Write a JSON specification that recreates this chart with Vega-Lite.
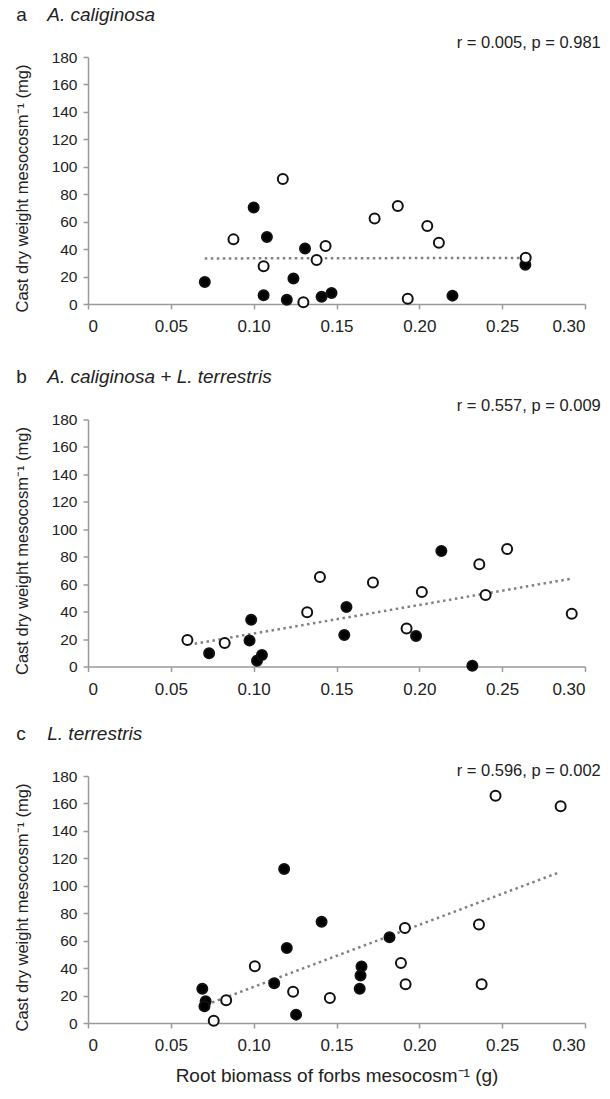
{
  "$schema": "https://vega.github.io/schema/vega-lite/v6.json",
  "padding": {"left": 14, "top": 5, "right": 0, "bottom": 0},
  "background": "white",
  "config": {
    "view": {"stroke": null},
    "font": "Liberation Sans",
    "axis": {"grid": false, "domainColor": "#9a9a9a", "tickColor": "#9a9a9a", "domainWidth": 1.5, "tickWidth": 1.5, "tickSize": 5, "labelColor": "#222", "titleColor": "#222", "labelFont": "Liberation Sans", "titleFont": "Liberation Sans", "titleFontWeight": "normal"},
    "axisX": {"labelPadding": 9.5, "labelFontSize": 17},
    "axisY": {"labelPadding": 6, "titlePadding": 21, "labelFontSize": 15.5, "titleFontSize": 16.5, "titleY": 131}
  },
  "datasets": {
    "points": [
      {"panel": "a", "type": "filled", "x": 0.0705, "y": 16.1},
      {"panel": "a", "type": "filled", "x": 0.100, "y": 70.3},
      {"panel": "a", "type": "filled", "x": 0.108, "y": 48.8},
      {"panel": "a", "type": "filled", "x": 0.106, "y": 6.3},
      {"panel": "a", "type": "filled", "x": 0.131, "y": 40.5},
      {"panel": "a", "type": "filled", "x": 0.124, "y": 18.5},
      {"panel": "a", "type": "filled", "x": 0.120, "y": 3.1},
      {"panel": "a", "type": "filled", "x": 0.141, "y": 5.3},
      {"panel": "a", "type": "filled", "x": 0.147, "y": 8.0},
      {"panel": "a", "type": "filled", "x": 0.220, "y": 6.1},
      {"panel": "a", "type": "filled", "x": 0.264, "y": 28.6},
      {"panel": "a", "type": "open", "x": 0.1176, "y": 91.1},
      {"panel": "a", "type": "open", "x": 0.0878, "y": 47.1},
      {"panel": "a", "type": "open", "x": 0.106, "y": 27.5},
      {"panel": "a", "type": "open", "x": 0.1434, "y": 42.2},
      {"panel": "a", "type": "open", "x": 0.138, "y": 32.0},
      {"panel": "a", "type": "open", "x": 0.130, "y": 1.2},
      {"panel": "a", "type": "open", "x": 0.173, "y": 62.3},
      {"panel": "a", "type": "open", "x": 0.187, "y": 71.5},
      {"panel": "a", "type": "open", "x": 0.2048, "y": 56.9},
      {"panel": "a", "type": "open", "x": 0.2118, "y": 44.7},
      {"panel": "a", "type": "open", "x": 0.193, "y": 3.9},
      {"panel": "a", "type": "open", "x": 0.2642, "y": 33.7},
      {"panel": "b", "type": "filled", "x": 0.0731, "y": 9.7},
      {"panel": "b", "type": "filled", "x": 0.0985, "y": 34.0},
      {"panel": "b", "type": "filled", "x": 0.0975, "y": 19.0},
      {"panel": "b", "type": "filled", "x": 0.102, "y": 4.2},
      {"panel": "b", "type": "filled", "x": 0.105, "y": 8.3},
      {"panel": "b", "type": "filled", "x": 0.156, "y": 43.4},
      {"panel": "b", "type": "filled", "x": 0.1547, "y": 23.0},
      {"panel": "b", "type": "filled", "x": 0.198, "y": 22.2},
      {"panel": "b", "type": "filled", "x": 0.2133, "y": 84.2},
      {"panel": "b", "type": "filled", "x": 0.232, "y": 0.5},
      {"panel": "b", "type": "open", "x": 0.060, "y": 19.3},
      {"panel": "b", "type": "open", "x": 0.0825, "y": 17.1},
      {"panel": "b", "type": "open", "x": 0.1323, "y": 39.5},
      {"panel": "b", "type": "open", "x": 0.140, "y": 65.3},
      {"panel": "b", "type": "open", "x": 0.172, "y": 61.2},
      {"panel": "b", "type": "open", "x": 0.1923, "y": 27.7},
      {"panel": "b", "type": "open", "x": 0.2015, "y": 54.3},
      {"panel": "b", "type": "open", "x": 0.2362, "y": 74.5},
      {"panel": "b", "type": "open", "x": 0.240, "y": 52.1},
      {"panel": "b", "type": "open", "x": 0.253, "y": 85.6},
      {"panel": "b", "type": "open", "x": 0.292, "y": 38.5},
      {"panel": "c", "type": "filled", "x": 0.069, "y": 24.9},
      {"panel": "c", "type": "filled", "x": 0.071, "y": 15.8},
      {"panel": "c", "type": "filled", "x": 0.0703, "y": 12.2},
      {"panel": "c", "type": "filled", "x": 0.1184, "y": 112.3},
      {"panel": "c", "type": "filled", "x": 0.120, "y": 54.7},
      {"panel": "c", "type": "filled", "x": 0.1124, "y": 29.0},
      {"panel": "c", "type": "filled", "x": 0.1256, "y": 6.1},
      {"panel": "c", "type": "filled", "x": 0.141, "y": 73.7},
      {"panel": "c", "type": "filled", "x": 0.1651, "y": 41.2},
      {"panel": "c", "type": "filled", "x": 0.1645, "y": 34.7},
      {"panel": "c", "type": "filled", "x": 0.164, "y": 24.9},
      {"panel": "c", "type": "filled", "x": 0.182, "y": 62.5},
      {"panel": "c", "type": "open", "x": 0.0759, "y": 1.7},
      {"panel": "c", "type": "open", "x": 0.0834, "y": 16.6},
      {"panel": "c", "type": "open", "x": 0.1007, "y": 41.3},
      {"panel": "c", "type": "open", "x": 0.1238, "y": 22.7},
      {"panel": "c", "type": "open", "x": 0.146, "y": 18.3},
      {"panel": "c", "type": "open", "x": 0.1889, "y": 43.7},
      {"panel": "c", "type": "open", "x": 0.1913, "y": 69.3},
      {"panel": "c", "type": "open", "x": 0.1917, "y": 28.3},
      {"panel": "c", "type": "open", "x": 0.236, "y": 71.8},
      {"panel": "c", "type": "open", "x": 0.2376, "y": 28.3},
      {"panel": "c", "type": "open", "x": 0.246, "y": 165.6},
      {"panel": "c", "type": "open", "x": 0.2853, "y": 158.0}
    ],
    "trend": [
      {"panel": "a", "x": 0.0705, "y": 33.2},
      {"panel": "a", "x": 0.264, "y": 33.6},
      {"panel": "b", "x": 0.0644, "y": 16.6},
      {"panel": "b", "x": 0.292, "y": 64.0},
      {"panel": "c", "x": 0.0715, "y": 13.4},
      {"panel": "c", "x": 0.285, "y": 110.0}
    ],
    "letters": [
      {"panel": "a", "x": -0.0433, "y": 210.8, "text": "a"},
      {"panel": "b", "x": -0.0433, "y": 210.8, "text": "b"},
      {"panel": "c", "x": -0.0433, "y": 210.8, "text": "c"}
    ],
    "species": [
      {"panel": "a", "x": -0.0246, "y": 210.8, "text": "A. caliginosa"},
      {"panel": "b", "x": -0.0246, "y": 210.8, "text": "A. caliginosa + L. terrestris"},
      {"panel": "c", "x": -0.0246, "y": 210.8, "text": "L. terrestris"}
    ],
    "stats": [
      {"panel": "a", "x": 0.3095, "y": 190, "text": "r = 0.005, p = 0.981"},
      {"panel": "b", "x": 0.3095, "y": 189.5, "text": "r = 0.557, p = 0.009"},
      {"panel": "c", "x": 0.3095, "y": 184, "text": "r = 0.596, p = 0.002"}
    ]
  },
  "spacing": 32.5,
  "vconcat": [
    {
      "width": 497, "height": 247,
      "encoding": {
        "x": {"field": "x", "type": "quantitative", "scale": {"domain": [0, 0.3], "nice": false, "zero": false}, "axis": {"title": null, "values": [0, 0.05, 0.1, 0.15, 0.2, 0.25, 0.3], "labelExpr": "datum.value == 0 ? '0' : format(datum.value, '.2f')"}},
        "y": {"field": "y", "type": "quantitative", "scale": {"domain": [0, 180], "nice": false}, "axis": {"title": "Cast dry weight mesocosm⁻¹ (mg)", "values": [0, 20, 40, 60, 80, 100, 120, 140, 160, 180]}}
      },
      "layer": [
        {"data": {"name": "trend"}, "transform": [{"filter": "datum.panel == 'a'"}], "mark": {"type": "line", "color": "#808080", "strokeWidth": 2.5, "strokeDash": [2.5, 3.5]}},
        {"data": {"name": "points"}, "transform": [{"filter": "datum.panel == 'a'"}], "mark": {"type": "circle", "size": 100, "stroke": "#111", "strokeWidth": 2, "opacity": 1}, "encoding": {"fill": {"field": "type", "type": "nominal", "scale": {"domain": ["filled", "open"], "range": ["#000000", "#ffffff"]}, "legend": null}}},
        {"data": {"name": "letters"}, "transform": [{"filter": "datum.panel == 'a'"}], "mark": {"type": "text", "align": "left", "baseline": "middle", "fontSize": 19, "color": "#222"}, "encoding": {"text": {"field": "text"}}},
        {"data": {"name": "species"}, "transform": [{"filter": "datum.panel == 'a'"}], "mark": {"type": "text", "align": "left", "baseline": "middle", "fontSize": 19, "fontStyle": "italic", "color": "#222"}, "encoding": {"text": {"field": "text"}}},
        {"data": {"name": "stats"}, "transform": [{"filter": "datum.panel == 'a'"}], "mark": {"type": "text", "align": "right", "baseline": "middle", "fontSize": 16.5, "color": "#222"}, "encoding": {"text": {"field": "text"}}}
      ]
    },
    {
      "spacing": 26.5,
      "vconcat": [
        {
          "width": 497, "height": 247,
          "encoding": {
            "x": {"field": "x", "type": "quantitative", "scale": {"domain": [0, 0.3], "nice": false, "zero": false}, "axis": {"title": null, "values": [0, 0.05, 0.1, 0.15, 0.2, 0.25, 0.3], "labelExpr": "datum.value == 0 ? '0' : format(datum.value, '.2f')"}},
            "y": {"field": "y", "type": "quantitative", "scale": {"domain": [0, 180], "nice": false}, "axis": {"title": "Cast dry weight mesocosm⁻¹ (mg)", "values": [0, 20, 40, 60, 80, 100, 120, 140, 160, 180]}}
          },
          "layer": [
            {"data": {"name": "trend"}, "transform": [{"filter": "datum.panel == 'b'"}], "mark": {"type": "line", "color": "#808080", "strokeWidth": 2.5, "strokeDash": [2.5, 3.5]}},
            {"data": {"name": "points"}, "transform": [{"filter": "datum.panel == 'b'"}], "mark": {"type": "circle", "size": 100, "stroke": "#111", "strokeWidth": 2, "opacity": 1}, "encoding": {"fill": {"field": "type", "type": "nominal", "scale": {"domain": ["filled", "open"], "range": ["#000000", "#ffffff"]}, "legend": null}}},
            {"data": {"name": "letters"}, "transform": [{"filter": "datum.panel == 'b'"}], "mark": {"type": "text", "align": "left", "baseline": "middle", "fontSize": 19, "color": "#222"}, "encoding": {"text": {"field": "text"}}},
            {"data": {"name": "species"}, "transform": [{"filter": "datum.panel == 'b'"}], "mark": {"type": "text", "align": "left", "baseline": "middle", "fontSize": 19, "fontStyle": "italic", "color": "#222"}, "encoding": {"text": {"field": "text"}}},
            {"data": {"name": "stats"}, "transform": [{"filter": "datum.panel == 'b'"}], "mark": {"type": "text", "align": "right", "baseline": "middle", "fontSize": 16.5, "color": "#222"}, "encoding": {"text": {"field": "text"}}}
          ]
        },
        {
          "width": 497, "height": 247,
          "encoding": {
            "x": {"field": "x", "type": "quantitative", "scale": {"domain": [0, 0.3], "nice": false, "zero": false}, "axis": {"title": "Root biomass of forbs mesocosm⁻¹ (g)", "titleFontSize": 19, "titlePadding": 13, "values": [0, 0.05, 0.1, 0.15, 0.2, 0.25, 0.3], "labelExpr": "datum.value == 0 ? '0' : format(datum.value, '.2f')"}},
            "y": {"field": "y", "type": "quantitative", "scale": {"domain": [0, 180], "nice": false}, "axis": {"title": "Cast dry weight mesocosm⁻¹ (mg)", "values": [0, 20, 40, 60, 80, 100, 120, 140, 160, 180]}}
          },
          "layer": [
            {"data": {"name": "trend"}, "transform": [{"filter": "datum.panel == 'c'"}], "mark": {"type": "line", "color": "#808080", "strokeWidth": 2.5, "strokeDash": [2.5, 3.5]}},
            {"data": {"name": "points"}, "transform": [{"filter": "datum.panel == 'c'"}], "mark": {"type": "circle", "size": 100, "stroke": "#111", "strokeWidth": 2, "opacity": 1}, "encoding": {"fill": {"field": "type", "type": "nominal", "scale": {"domain": ["filled", "open"], "range": ["#000000", "#ffffff"]}, "legend": null}}},
            {"data": {"name": "letters"}, "transform": [{"filter": "datum.panel == 'c'"}], "mark": {"type": "text", "align": "left", "baseline": "middle", "fontSize": 19, "color": "#222"}, "encoding": {"text": {"field": "text"}}},
            {"data": {"name": "species"}, "transform": [{"filter": "datum.panel == 'c'"}], "mark": {"type": "text", "align": "left", "baseline": "middle", "fontSize": 19, "fontStyle": "italic", "color": "#222"}, "encoding": {"text": {"field": "text"}}},
            {"data": {"name": "stats"}, "transform": [{"filter": "datum.panel == 'c'"}], "mark": {"type": "text", "align": "right", "baseline": "middle", "fontSize": 16.5, "color": "#222"}, "encoding": {"text": {"field": "text"}}}
          ]
        }
      ]
    }
  ]
}
